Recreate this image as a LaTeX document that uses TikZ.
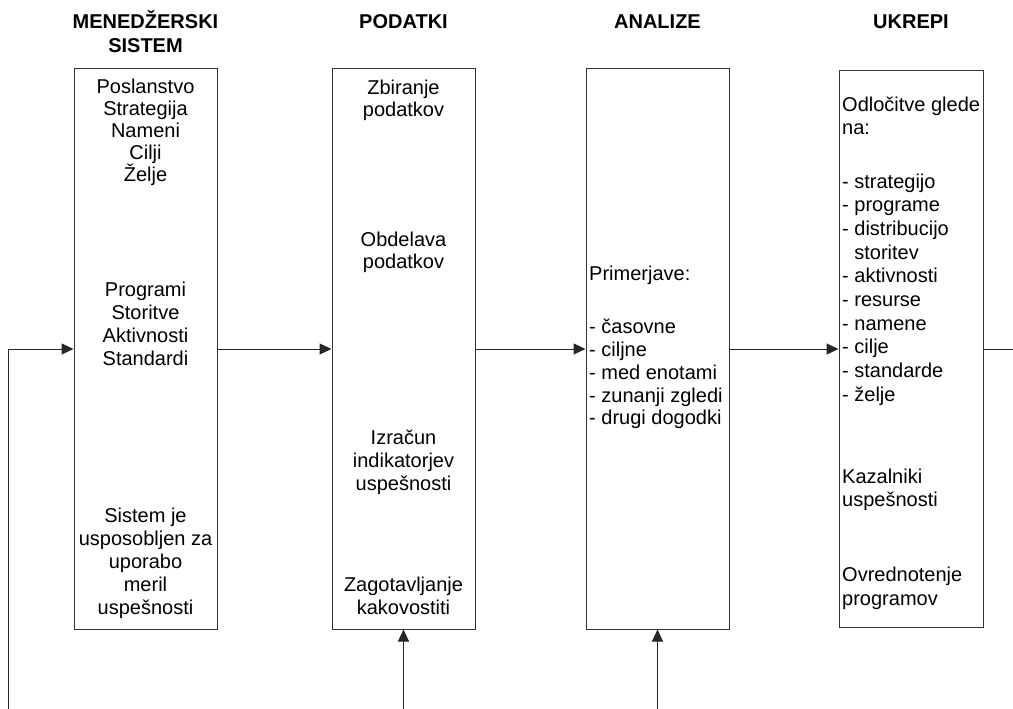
\documentclass[tikz,border=0pt]{standalone}
\usepackage{fontspec}
\setmainfont{Liberation Sans}
\usetikzlibrary{arrows.meta}
\begin{document}
\begin{tikzpicture}[x=1pt,y=-1pt,
  box/.style={draw=black!80, line width=1pt, minimum width=143pt, inner sep=0pt},
  head/.style={font=\bfseries\fontsize{20}{23}\selectfont, anchor=base, inner sep=0pt},
  txt/.style={font=\fontsize{20}{23}\selectfont, anchor=base, inner sep=0pt},
  ltxt/.style={txt, anchor=base west},
  link/.style={draw=black!85, line width=1pt},
  arr/.style={link, -{Triangle[length=12pt,width=11pt]}}
]
\useasboundingbox (0,0) rectangle (1013,709);
\fill[white] (0,0) rectangle (1013,709);

% column headings
\node[head] (h1a) at (145.5,29) {MENEDŽERSKI};
\node[head] (h1b) at (145.5,53) {SISTEM};
\node[head] (h2) at (403.5,29) {PODATKI};
\node[head] (h3) at (657.5,29) {ANALIZE};
\node[head] (h4) at (911,29) {UKREPI};

% the four stages
\node[box, minimum height=560pt] (b1) at (145.5,349) {};
\node[box, minimum height=560pt] (b2) at (403.5,349) {};
\node[box, minimum height=560pt] (b3) at (657.5,349) {};
\node[box, minimum height=556pt, minimum width=144pt] (b4) at (911,349) {};

% management system
\foreach \t/\y [count=\i] in {Poslanstvo/94, Strategija/116, Nameni/137, Cilji/159, Želje/181,
    Programi/296, Storitve/319, Aktivnosti/342, Standardi/365,
    Sistem je/522, usposobljen za/545, uporabo/568, meril/591, uspešnosti/614}
  \node[txt] (m\i) at (145.5,\y) {\t};

% data
\foreach \t/\y [count=\i] in {Zbiranje/95, podatkov/117, Obdelava/246, podatkov/268,
    Izračun/444, indikatorjev/467, uspešnosti/490,
    Zagotavljanje/591, kakovostiti/614}
  \node[txt] (p\i) at (403.5,\y) {\t};

% analyses
\foreach \t/\y [count=\i] in {Primerjave:/280, - časovne/333, - ciljne/356,
    - med enotami/379, - zunanji zgledi/402, - drugi dogodki/424}
  \node[ltxt] (a\i) at (589,\y) {\t};

% actions
\foreach \t/\y [count=\i] in {Odločitve glede/112, na:/135, - strategijo/188, - programe/211.7,
    - distribucijo/235.3, {\hspace*{12.2pt}storitev}/259, - aktivnosti/282.7, - resurse/306.3,
    - namene/330, - cilje/353.7, - standarde/377.3, - želje/401,
    Kazalniki/483, uspešnosti/506, Ovrednotenje/581, programov/605}
  \node[ltxt] (u\i) at (842,\y) {\t};

% flow between stages
\coordinate (bot) at (0,709);
\coordinate (fb) at (8,709);
\coordinate (out) at (1013,349);
\draw[arr] (fb) |- (b1.west);
\draw[arr] (b1.east) -- (b2.west);
\draw[arr] (b2.east) -- (b3.west);
\draw[arr] (b3.east) -- (b4.west);
\draw[link] (b4.east) -- (out);
\draw[arr] (b2.south |- bot) -- (b2.south);
\draw[arr] (b3.south |- bot) -- (b3.south);
\end{tikzpicture}
\end{document}
